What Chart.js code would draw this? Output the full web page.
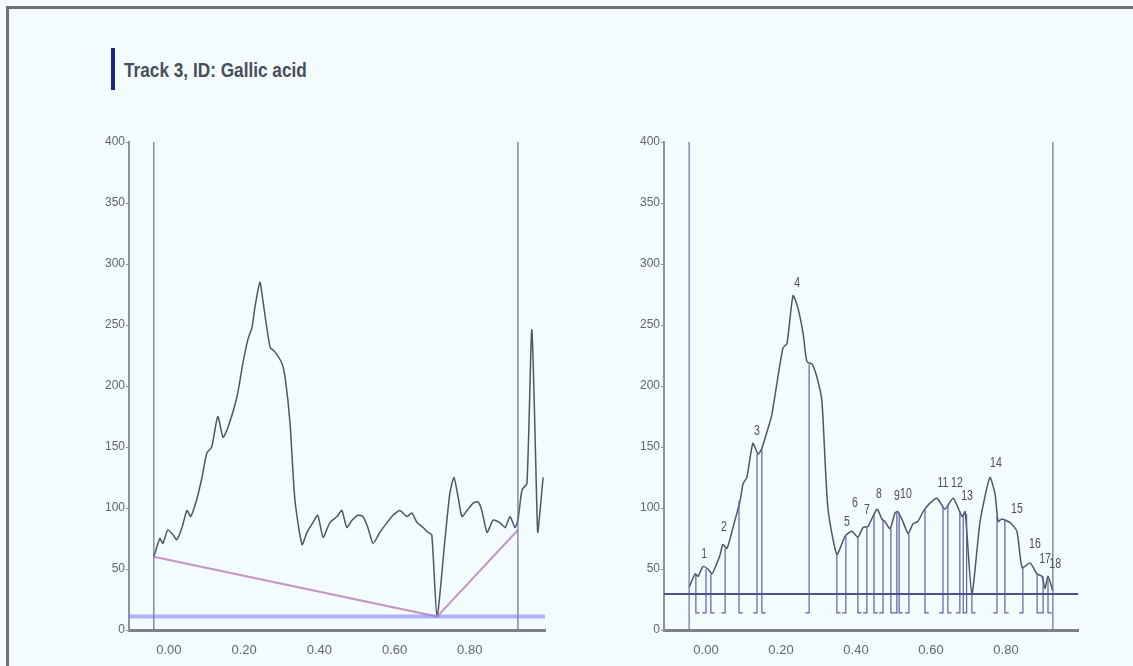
<!DOCTYPE html>
<html>
<head>
<meta charset="utf-8">
<script src="https://cdn.jsdelivr.net/npm/chart.js@4.4.1/dist/chart.umd.min.js"></script>
<style>
  body { margin: 0; background: #f4fbfc; width: 1133px; height: 666px; overflow: hidden; position: relative; }
  #frame { position: absolute; left: 6px; top: 6px; right: 0; bottom: 0; border-top: 3px solid #6e6e6e; border-left: 3px solid #6e6e6e; }
  #bar { position: absolute; left: 111px; top: 48px; width: 4px; height: 42px; background: #1c2580; }
  #title { position: absolute; left: 124px; top: 50px; white-space: nowrap;
           font: bold 21px "Liberation Sans", Arial, sans-serif; line-height: 40px; color: #474e5c;
           transform: scaleX(0.82); transform-origin: left center; }
  .box { position: absolute; top: 130px; }
</style>
</head>
<body>
<div id="frame"></div>
<div id="bar"></div>
<div id="title">Track 3, ID: Gallic acid</div>
<div class="box" style="left:80px"><canvas id="leftChart" width="480" height="530"></canvas></div>
<div class="box" style="left:615px"><canvas id="rightChart" width="480" height="530"></canvas></div>
<script>
// --- data ---
const yTicks = [0, 50, 100, 150, 200, 250, 300, 350, 400];
const xTicks = [0.0, 0.2, 0.4, 0.6, 0.8];

// left: raw densitogram with baseline
const leftRf = [-0.04, -0.024, -0.016, -0.003, 0.011, 0.021, 0.035, 0.048, 0.058, 0.074, 0.088, 0.101, 0.114, 0.130, 0.144, 0.157, 0.181, 0.197, 0.210, 0.221, 0.229, 0.242, 0.250, 0.269, 0.282, 0.300, 0.309, 0.322, 0.335, 0.354, 0.367, 0.383, 0.396, 0.410, 0.428, 0.447, 0.460, 0.473, 0.487, 0.503, 0.516, 0.529, 0.543, 0.561, 0.580, 0.596, 0.614, 0.633, 0.646, 0.660, 0.676, 0.689, 0.699, 0.713, 0.734, 0.747, 0.758, 0.769, 0.779, 0.793, 0.809, 0.822, 0.832, 0.846, 0.862, 0.880, 0.894, 0.907, 0.920, 0.928, 0.939, 0.952, 0.965, 0.979, 0.981, 0.995];
const leftInt = [60, 75, 71, 82, 78, 74, 84, 98, 93, 107, 125, 145, 150, 175, 158, 166, 191, 219, 238, 248, 265, 285, 270, 232, 228, 219, 207, 170, 107, 70, 80, 88, 94, 76, 88, 93, 98, 84, 90, 94, 93, 84, 71, 80, 88, 94, 98, 93, 96, 88, 84, 80, 78, 11, 74, 112, 125, 109, 93, 98, 104, 105, 98, 80, 90, 88, 84, 93, 84, 90, 115, 120, 246, 93, 80, 125];
const leftBaseRf = [-0.04, 0.713, 0.928];
const leftBaseInt = [60, 11, 82];
const leftLimits = [-0.04, 0.928];
const leftThreshold = 11;

// right: integrated peaks
const rightRf = [-0.045, -0.029, -0.021, -0.008, 0.005, 0.016, 0.024, 0.037, 0.045, 0.056, 0.072, 0.091, 0.099, 0.109, 0.125, 0.139, 0.149, 0.171, 0.176, 0.205, 0.216, 0.232, 0.245, 0.259, 0.269, 0.283, 0.296, 0.309, 0.325, 0.349, 0.371, 0.389, 0.405, 0.419, 0.432, 0.456, 0.469, 0.477, 0.491, 0.504, 0.512, 0.525, 0.539, 0.552, 0.565, 0.579, 0.597, 0.616, 0.637, 0.659, 0.683, 0.691, 0.709, 0.731, 0.757, 0.771, 0.779, 0.789, 0.811, 0.829, 0.843, 0.864, 0.883, 0.896, 0.904, 0.912, 0.925];
const rightInt = [35, 46, 44, 52, 50, 46, 51, 61, 70, 67, 84, 106, 120, 125, 153, 144, 149, 171, 177, 231, 235, 274, 264, 243, 220, 218, 207, 188, 100, 62, 77, 81, 76, 84, 85, 99, 91, 89, 83, 96, 97, 89, 79, 87, 89, 97, 104, 108, 99, 108, 93, 97, 30, 89, 125, 111, 89, 91, 88, 81, 51, 55, 46, 44, 34, 44, 32];
const rightLimits = [-0.045, 0.925];
const rightThreshold = 29.5;
const boundRf = [-0.027, 0.0, 0.013, 0.051, 0.088, 0.136, 0.149, 0.275, 0.349, 0.373, 0.405, 0.429, 0.448, 0.472, 0.493, 0.509, 0.515, 0.541, 0.584, 0.632, 0.645, 0.677, 0.686, 0.695, 0.709, 0.776, 0.797, 0.845, 0.883, 0.899, 0.912];
const boundTop = [45, 50, 46, 67, 106, 144, 149, 218, 62, 77, 76, 85, 95, 90, 83, 97, 95, 79, 99, 101, 102, 97, 94, 95, 30, 93, 91, 51, 46, 44, 44];
const peakNo = ['1', '2', '3', '4', '5', '6', '7', '8', '9', '10', '11', '12', '13', '14', '15', '16', '17', '18'];
const peakRf = [-0.005, 0.048, 0.136, 0.243, 0.376, 0.397, 0.429, 0.461, 0.509, 0.533, 0.632, 0.669, 0.696, 0.773, 0.829, 0.877, 0.904, 0.931];
const peakInt = [62, 84, 163, 284, 88, 104, 98, 111, 110, 111, 120, 120, 110, 137, 99, 70, 58, 54];

const FONT = '"Liberation Sans", Arial, sans-serif';
const pts = (xs, ys) => xs.map((x, i) => ({ x, y: ys[i] }));

function limitLines(lims) {
  const out = [];
  lims.forEach(x => { out.push({ x, y: 0 }, { x, y: 400 }, { x, y: null }); });
  return out;
}

function lineSet(data, color, width, tension) {
  return { data, showLine: true, borderColor: color, borderWidth: width, pointRadius: 0, tension: tension || 0, spanGaps: false };
}

// peak numbers, drawn a bit narrow like the original
const peakLabels = {
  id: 'peakLabels',
  afterDatasetsDraw(chart, args, opts) {
    if (!opts.labels) return;
    const { ctx, scales: { x, y } } = chart;
    ctx.save();
    ctx.font = '14px ' + FONT;
    ctx.fillStyle = '#4a4f5a';
    ctx.textAlign = 'center';
    ctx.textBaseline = 'middle';
    opts.labels.forEach((t, i) => {
      ctx.save();
      ctx.translate(x.getPixelForValue(opts.rf[i]), y.getPixelForValue(opts.int[i]));
      ctx.scale(0.75, 1);
      ctx.fillText(t, 0, 0);
      ctx.restore();
    });
    ctx.restore();
  }
};

function makeOptions(xMin, xMax, padRight) {
  return {
    responsive: false,
    animation: false,
    devicePixelRatio: 1,
    layout: { padding: { top: 12, right: padRight, left: 0, bottom: 0 } },
    plugins: { legend: { display: false }, tooltip: { enabled: false } },
    scales: {
      x: {
        type: 'linear', min: xMin, max: xMax,
        afterBuildTicks: s => { s.ticks = xTicks.map(v => ({ value: v })); },
        afterFit: s => { s.height = 30; },
        ticks: { callback: v => Number(v).toFixed(2), color: '#5f6573', font: { family: FONT, size: 13 }, padding: 5, maxRotation: 0 },
        grid: { display: false },
        border: { display: true, color: '#7d828b', width: 3 }
      },
      y: {
        min: 0, max: 400,
        afterBuildTicks: s => { s.ticks = yTicks.map(v => ({ value: v })); },
        afterFit: s => { s.width = 49; },
        ticks: { color: '#5f6573', font: { family: FONT, size: 12 }, padding: 1 },
        grid: { drawOnChartArea: false, drawTicks: true, tickLength: 3, color: '#8a9099' },
        border: { display: true, color: '#8e949c', width: 2 }
      }
    }
  };
}

// left chart
new Chart(document.getElementById('leftChart'), {
  type: 'scatter',
  data: {
    datasets: [
      lineSet([{ x: -0.106, y: leftThreshold }, { x: 1.0, y: leftThreshold }], 'rgba(130,130,240,0.6)', 4),
      lineSet(limitLines(leftLimits), '#6a7090', 1.2),
      lineSet(pts(leftBaseRf, leftBaseInt), 'rgba(190,140,190,0.9)', 2),
      lineSet(pts(leftRf, leftInt), '#4f5666', 1.5, 0.2)
    ]
  },
  options: makeOptions(-0.106, 1.0, 15),
  plugins: [peakLabels]
});

// right chart
const boundPts = [];
boundRf.forEach((x, i) => {
  const dir = i % 2 === 0 ? 1 : -1;
  boundPts.push({ x, y: boundTop[i] }, { x, y: 14 }, { x: x + dir * 0.01, y: 14 }, { x, y: null });
});

const rightOpts = makeOptions(-0.112, 0.992, 17);
rightOpts.plugins.peakLabels = { labels: peakNo, rf: peakRf, int: peakInt };

new Chart(document.getElementById('rightChart'), {
  type: 'scatter',
  data: {
    datasets: [
      lineSet([{ x: -0.112, y: rightThreshold }, { x: 0.992, y: rightThreshold }], '#4a5090', 1.8),
      lineSet(limitLines(rightLimits), '#6a7090', 1.2),
      lineSet(boundPts, '#5a62a0', 1.2),
      lineSet(pts(rightRf, rightInt), '#4f5666', 1.5, 0.2)
    ]
  },
  options: rightOpts,
  plugins: [peakLabels]
});
</script>
</body>
</html>
